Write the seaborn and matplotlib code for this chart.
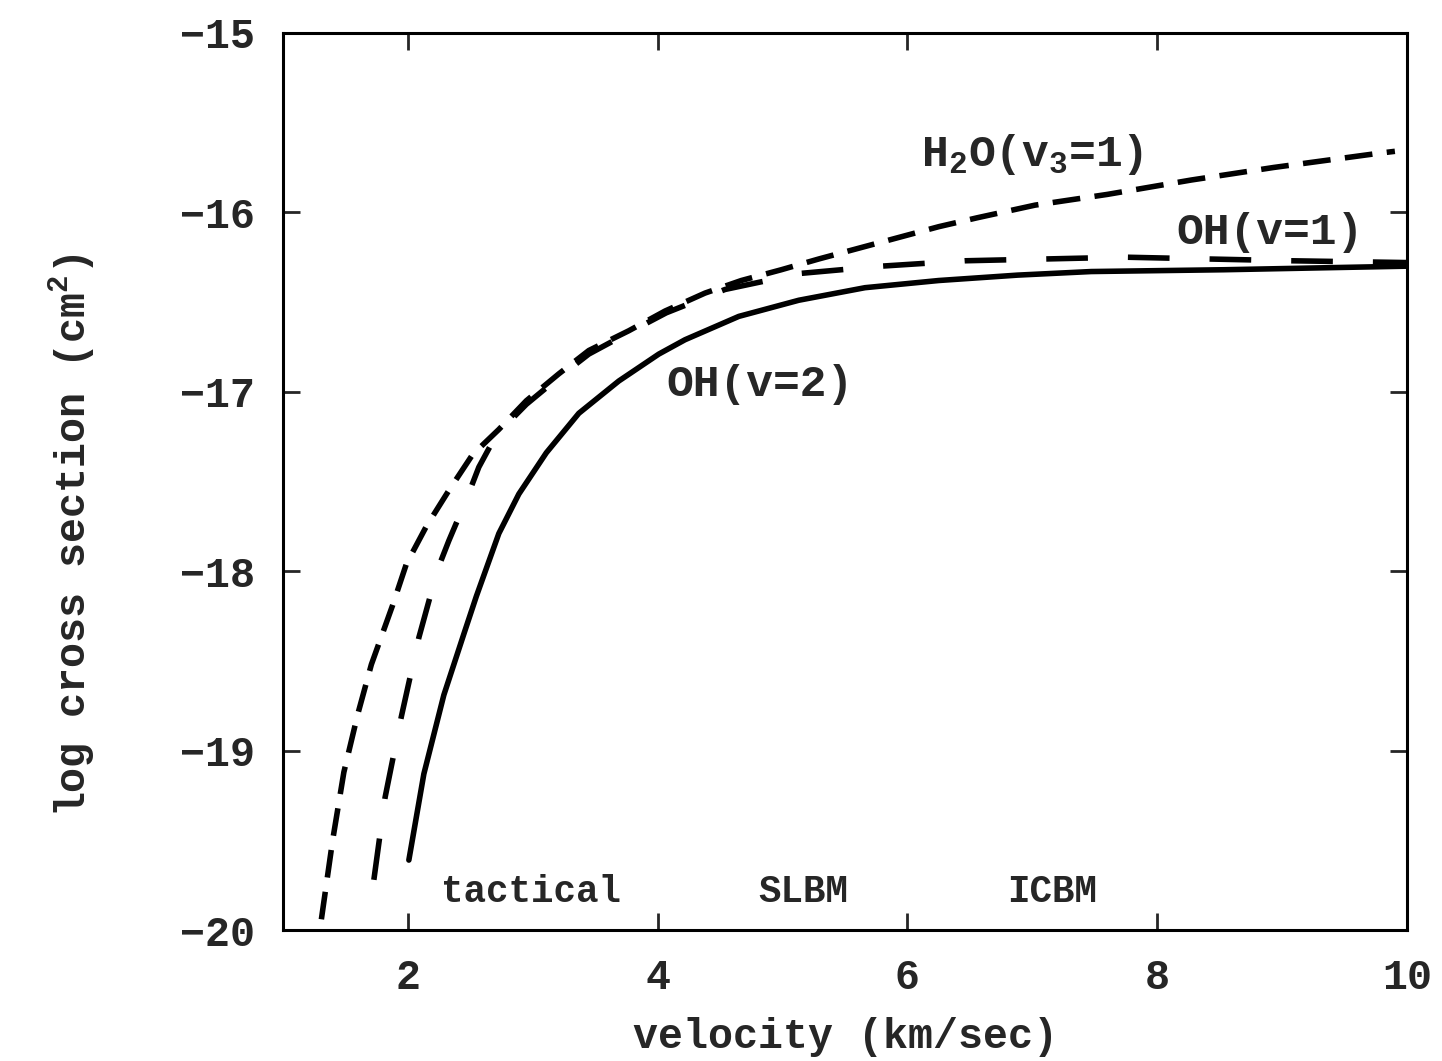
import numpy as np
import pandas as pd
import matplotlib
matplotlib.use('Agg')
import matplotlib.pyplot as plt
import seaborn as sns

# curves (velocity in km/sec, log cross section)
h2o_v = [1.31, 1.40, 1.49, 1.60, 1.71, 1.88, 1.99, 2.15, 2.33, 2.52, 2.73, 2.95, 3.21, 3.45,
         3.77, 4.06, 4.38, 4.67, 4.99, 5.29, 5.61, 5.93, 6.25, 6.56, 7.02, 7.60, 8.27, 8.93,
         9.78, 9.90]
h2o_y = [-19.94, -19.50, -19.12, -18.80, -18.52, -18.19, -17.96, -17.75, -17.55, -17.35, -17.21, -17.05, -16.90, -16.77,
         -16.66, -16.55, -16.45, -16.38, -16.32, -16.26, -16.20, -16.14, -16.08, -16.03, -15.96, -15.90, -15.82, -15.75,
         -15.67, -15.66]

oh1_v = [1.73, 1.82, 1.95, 2.09, 2.24, 2.33, 2.47, 2.57, 2.71, 2.95, 3.21, 3.45, 3.77, 4.07,
         4.54, 5.15, 5.79, 6.46, 7.74, 9.07, 10.0]
oh1_y = [-19.72, -19.26, -18.81, -18.37, -17.99, -17.83, -17.60, -17.42, -17.24, -17.07, -16.92, -16.79, -16.67, -16.56,
         -16.43, -16.34, -16.30, -16.27, -16.25, -16.27, -16.28]

oh2_v = [2.01, 2.13, 2.29, 2.45, 2.55, 2.73, 2.89, 3.11, 3.37, 3.69, 4.01, 4.22, 4.65, 5.13,
         5.66, 6.25, 6.88, 7.47, 8.53, 10.0]
oh2_y = [-19.61, -19.13, -18.69, -18.35, -18.14, -17.79, -17.57, -17.34, -17.12, -16.94, -16.79, -16.71, -16.58, -16.49,
         -16.42, -16.38, -16.35, -16.33, -16.32, -16.30]

x_ticks = [2, 4, 6, 8, 10]
y_ticks = [-20, -19, -18, -17, -16, -15]

df = pd.concat([
    pd.DataFrame({'v': h2o_v, 'sigma': h2o_y, 'curve': 'H2O'}),
    pd.DataFrame({'v': oh1_v, 'sigma': oh1_y, 'curve': 'OH1'}),
    pd.DataFrame({'v': oh2_v, 'sigma': oh2_y, 'curve': 'OH2'}),
])

sns.set_style('white')
plt.rcParams['font.family'] = ['Liberation Mono', 'DejaVu Sans Mono']
plt.rcParams['font.weight'] = 'bold'
plt.rcParams['mathtext.fontset'] = 'custom'
plt.rcParams['mathtext.rm'] = 'Liberation Mono:bold'
plt.rcParams['mathtext.it'] = 'Liberation Mono:bold'
plt.rcParams['mathtext.bf'] = 'Liberation Mono:bold'

fig = plt.figure(figsize=(14.42, 10.61), dpi=100)
ax = fig.add_axes([0.196, 0.1234, 0.78, 0.8456])

sns.lineplot(data=df, x='v', y='sigma', style='curve',
             dashes={'H2O': (5, 2.6), 'OH1': (7.5, 7.2), 'OH2': ''},
             color='black', lw=4, legend=False, errorbar=None, ax=ax)

ax.set_xlim(1, 10)
ax.set_ylim(-20, -15)
ax.set_xticks(x_ticks)
ax.set_yticks(y_ticks)
ax.set_xticklabels([str(t) for t in x_ticks])
ax.set_yticklabels(['\u2212%d' % abs(t) for t in y_ticks])
ax.tick_params(direction='in', length=12, width=2, labelsize=30, pad=20,
               top=True, right=True, bottom=True, left=True)
for sp in ax.spines.values():
    sp.set_linewidth(2.2)
    sp.set_color('black')

ax.set_xlabel('velocity (km/sec)', fontsize=30, fontweight='bold', labelpad=14)
ax.set_ylabel('log cross section (cm$^2$)', fontsize=30, fontweight='bold')
ax.yaxis.set_label_coords(-0.165, 0.44)

ax.text(7.0, -15.68, 'H$_2$O(v$_3$=1)', fontsize=32, ha='center', va='center')
ax.text(8.9, -16.11, 'OH(v=1)', fontsize=32, ha='center', va='center')
ax.text(4.82, -16.96, 'OH(v=2)', fontsize=32, ha='center', va='center')
ax.text(2.99, -19.79, 'tactical', fontsize=27, ha='center', va='center')
ax.text(5.17, -19.79, 'SLBM', fontsize=27, ha='center', va='center')
ax.text(7.16, -19.79, 'ICBM', fontsize=27, ha='center', va='center')

fig.savefig('out.png', dpi=100)
